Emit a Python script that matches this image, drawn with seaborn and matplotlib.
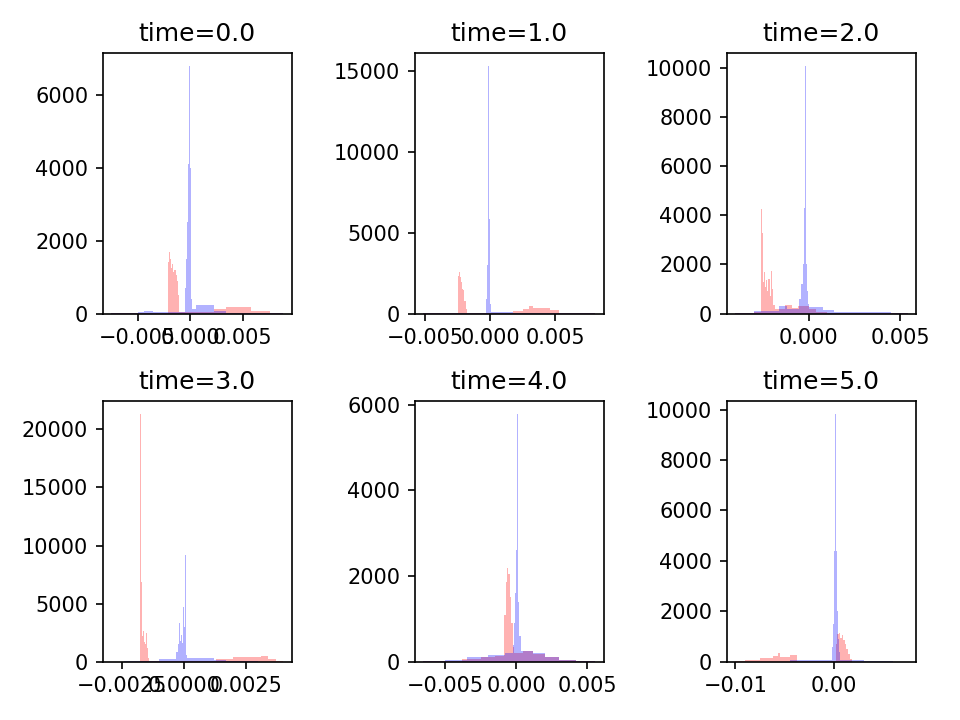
import numpy as np
import matplotlib
matplotlib.use("Agg")
import matplotlib.pyplot as plt
import seaborn as sns

# time values shown in the panel titles
times = [0.0, 1.0, 2.0, 3.0, 4.0, 5.0]

# histogram bin edges / heights (red = first group, blue = second)
red_edges_t0 = [-0.0075, -0.0045, -0.00213, -0.0020, -0.0019, -0.0018, -0.0017, -0.0016, -0.0015,
                -0.0014, -0.0013, -0.0012, -0.00111, 0.0002, 0.00222, 0.00343, 0.0058, 0.0076, 0.00885]
red_heights_t0 = [10, 20, 1400, 1700, 1500, 1250, 1350, 1150, 1200, 1050, 900, 500, 40, 40, 120, 190, 55, 10]
blue_edges_t0 = [-0.0075, -0.0050, -0.0044, -0.0035, -0.00048, -0.00036, -0.00027, -0.00019, -0.00010,
                 -0.00004, 0.00005, 0.00012, 0.00020, 0.00057, 0.00222, 0.00343, 0.0076, 0.00885]
blue_heights_t0 = [5, 40, 70, 30, 700, 1500, 2500, 4100, 6800, 4000, 1500, 400, 120, 230, 70, 25, 5]

red_edges_t1 = [-0.00514, -0.00245, -0.00237, -0.00229, -0.00221, -0.00213, -0.00205, -0.00197, -0.00189,
                -0.0018, 0.0018, 0.0025, 0.0030, 0.0033, 0.0046, 0.0053, 0.0081]
red_heights_t1 = [20, 2300, 2540, 2250, 1950, 1500, 1450, 800, 300, 20, 150, 300, 480, 370, 200, 10]
blue_edges_t1 = [-0.00514, -0.0050, -0.00030, -0.00022, -0.00015, -0.00010, -0.00002, 0.00004, 0.0018, 0.0081]
blue_heights_t1 = [5, 60, 900, 3000, 15350, 5850, 600, 120, 15]

red_edges_t2 = [-0.00404, -0.0030, -0.00259, -0.00254, -0.00249, -0.00243, -0.00237, -0.00231, -0.00225,
                -0.00219, -0.00213, -0.00207, -0.00201, -0.00195, -0.00186, -0.0013, -0.0009, -0.0006,
                0.0, 0.0004, 0.0010, 0.00543]
red_heights_t2 = [20, 60, 4250, 3300, 1300, 1700, 1100, 1350, 900, 1400, 700, 1750, 1000, 350, 180, 330,
                  220, 300, 200, 60, 10]
blue_edges_t2 = [-0.00404, -0.0030, -0.0016, -0.0012, -0.00050, -0.00040, -0.00033, -0.00027, -0.00021,
                 -0.00016, -0.000115, -0.00006, -0.00001, 0.00004, 0.0008, 0.0014, 0.0045, 0.00543]
blue_heights_t2 = [5, 100, 300, 200, 600, 1200, 2000, 4300, 10100, 4300, 2000, 900, 400, 280, 150, 60, 20]

red_edges_t3 = [-0.0029, -0.00174, -0.00171, -0.00169, -0.00166, -0.00163, -0.00160, -0.00157, -0.00154,
                -0.00151, -0.00148, -0.00145, -0.00142, -0.00138, 0.0013, 0.0020, 0.0031, 0.0034, 0.0037, 0.00401]
red_heights_t3 = [5, 21340, 6900, 4300, 2200, 2600, 1700, 2400, 1500, 2500, 1200, 800, 300, 20, 250, 420,
                  480, 250, 30]
blue_edges_t3 = [-0.0029, -0.0024, -0.0010, -0.00030, -0.00025, -0.00020, -0.00016, -0.00012, -0.00008,
                 -0.00004, 0.0, 0.00004, 0.00008, 0.00010, 0.00014, 0.0012, 0.0017, 0.0030, 0.00401]
blue_heights_t3 = [5, 60, 250, 800, 1500, 3300, 1800, 2300, 1600, 4700, 3000, 9170, 3000, 600, 330, 150,
                   30, 5]

red_edges_t4 = [-0.00654, -0.0050, -0.0038, -0.0025, -0.0015, -0.00085, -0.00075, -0.00065, -0.00055,
                -0.00045, -0.00035, -0.00025, -0.00017, 0.0005, 0.0012, 0.0020, 0.0030, 0.0042, 0.00557]
red_heights_t4 = [5, 20, 60, 100, 140, 1100, 1850, 2190, 2050, 1500, 900, 350, 200, 240, 190, 120, 50, 5]
blue_edges_t4 = [-0.00654, -0.0050, -0.0035, -0.0020, -0.0008, -0.00020, -0.00013, -0.00006, 0.0, 0.00004,
                 0.00010, 0.00016, 0.00023, 0.00031, 0.0012, 0.0020, 0.0030, 0.0042, 0.00557]
blue_heights_t4 = [10, 40, 100, 150, 200, 400, 900, 1600, 2600, 5790, 3100, 1400, 600, 260, 200, 110, 40, 5]

red_edges_t5 = [-0.01001, -0.0090, -0.0075, -0.0062, -0.0057, -0.0055, -0.0045, -0.0038, 0.0002, 0.00035,
                0.0005, 0.00065, 0.0008, 0.00095, 0.0011, 0.00125, 0.0014, 0.0016, 0.0018, 0.00743]
red_heights_t5 = [30, 70, 150, 220, 360, 200, 260, 15, 700, 1100, 1150, 950, 1050, 850, 700, 500, 300, 100, 5]
blue_edges_t5 = [-0.01001, -0.0045, -0.0030, -0.00025, -0.00012, -0.00004, 0.00004, 0.00014, 0.00020,
                 0.00030, 0.00040, 0.00052, 0.00065, 0.0030, 0.0060, 0.00743]
blue_heights_t5 = [5, 50, 80, 600, 1500, 2500, 4400, 9830, 4400, 2000, 900, 400, 60, 40, 5]

red_series = [(red_edges_t0, red_heights_t0), (red_edges_t1, red_heights_t1), (red_edges_t2, red_heights_t2),
              (red_edges_t3, red_heights_t3), (red_edges_t4, red_heights_t4), (red_edges_t5, red_heights_t5)]
blue_series = [(blue_edges_t0, blue_heights_t0), (blue_edges_t1, blue_heights_t1), (blue_edges_t2, blue_heights_t2),
               (blue_edges_t3, blue_heights_t3), (blue_edges_t4, blue_heights_t4), (blue_edges_t5, blue_heights_t5)]

# x limits of each panel
x_limits = [(-0.00833, 0.00967), (-0.0058, 0.00876), (-0.00447, 0.00586),
            (-0.00326, 0.00435), (-0.00715, 0.00618), (-0.01088, 0.0083)]


def draw_hist(ax, edges, heights, color):
    e = np.asarray(edges)
    centers = (e[:-1] + e[1:]) / 2
    # bins passed as a plain list: seaborn compares bins == "auto" when weights are used
    sns.histplot(x=centers, weights=heights, bins=list(edges), stat="count", element="step",
                 fill=True, color=color, alpha=0.3, linewidth=0, ax=ax)


fig, axes = plt.subplots(2, 3, figsize=(6.4, 4.8), dpi=150)
fig.subplots_adjust(left=0.107, right=0.954, top=0.926, bottom=0.081, wspace=0.65, hspace=0.338)

for ax, t, red, blue, xl in zip(axes.flat, times, red_series, blue_series, x_limits):
    draw_hist(ax, red[0], red[1], "red")
    draw_hist(ax, blue[0], blue[1], "blue")
    ax.set_xlim(xl)
    ax.set_title(f"time={t}")
    ax.set_xlabel("")
    ax.set_ylabel("")

plt.savefig("out.png")
